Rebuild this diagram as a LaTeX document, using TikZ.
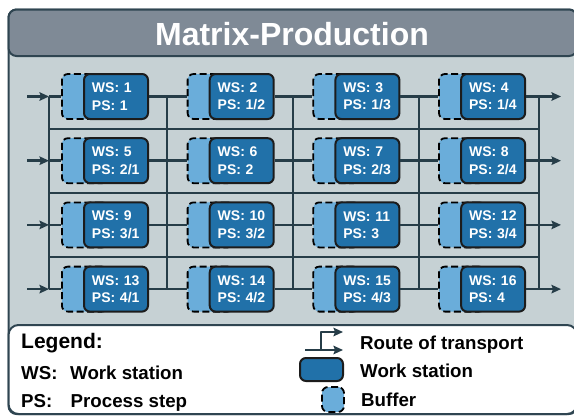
\documentclass[tikz,border=0pt]{standalone}
\usepackage{fontspec}
\setmainfont{Liberation Sans}
\usetikzlibrary{arrows.meta}
\definecolor{framecol}{HTML}{2F4551}
\definecolor{linecol}{HTML}{263D48}
\definecolor{titlecol}{HTML}{7F8A96}
\definecolor{bodycol}{HTML}{C6D1D4}
\definecolor{wsfill}{HTML}{2171A9}
\definecolor{wsline}{HTML}{1C1C1C}
\definecolor{buffill}{HTML}{6AADDA}
\tikzset{
  wsshape/.style={draw=wsline,line width=2pt,fill=wsfill,rounded corners=6pt,inner sep=0pt},
  wsbox/.style={wsshape,anchor=west,minimum width=64pt,minimum height=45pt,text width=48pt,
    inner xsep=8pt,align=left,text=white,font=\fontsize{14}{17.4}\selectfont\bfseries},
  bufbox/.style={draw=black,line width=1.8pt,dash pattern=on 7pt off 3.5pt,fill=buffill,
    rounded corners=6pt,inner sep=0pt},
  route/.style={draw=linecol,line width=2.6pt},
  gridline/.style={draw=linecol,line width=2pt},
  legtext/.style={anchor=base west,inner sep=0pt,font=\fontsize{18.7}{21}\selectfont\bfseries}
}
\begin{document}
\begin{tikzpicture}[x=1pt,y=-1pt,line join=round,>={Stealth[length=9.5pt,width=8.5pt,inset=1.5pt]}]
  \useasboundingbox (0,0) rectangle (574,416);
  \clip (0,0) rectangle (574,416);
  % frame, title bar and legend area
  \draw[framecol,line width=2pt,fill=bodycol,rounded corners=8pt] (8.5,9.5) rectangle (577,414);
  \draw[framecol,line width=2pt,fill=titlecol,rounded corners=8pt] (8.5,9.5) rectangle (577,56);
  \draw[framecol,line width=2pt,fill=white,rounded corners=10pt] (8.5,325) rectangle (577,414);
  \node[text=white,anchor=base,inner sep=0pt,font=\fontsize{32}{36}\selectfont\bfseries] (title) at (292,45.5) {Matrix-Production};

  % buffers and work stations
  \foreach \r in {1,...,4}{
    \foreach \c in {1,...,4}{
      \pgfmathtruncatemacro\n{4*(\r-1)+\c}
      \pgfmathsetmacro\xb{61+125.7*(\c-1)}
      \pgfmathsetmacro\yr{96.5+64.2*(\r-1)}
      \ifnum\r=\c \def\ps{\r}\else\def\ps{\r/\c}\fi
      \node[bufbox,anchor=west,minimum width=46pt,minimum height=45pt] (buf\n) at (\xb,\yr) {};
      \node[wsbox] (ws\n) at (\xb+22,\yr) {WS: \n\\PS: \ps};
    }
  }

  % grid of transport routes
  \foreach \x [count=\i] in {49,167,293,419,539}{
    \coordinate (vt\i) at (\x,96.5);
    \coordinate (vb\i) at (\x,289.1);
    \draw[gridline] (vt\i) -- (vb\i);
  }
  \foreach \y [count=\i] in {128.6,192.8,257}{
    \coordinate (hl\i) at (49,\y);
    \coordinate (hr\i) at (539,\y);
    \draw[gridline] (hl\i) -- (hr\i);
  }
  \foreach \r in {1,...,4}{
    \pgfmathsetmacro\yr{96.5+64.2*(\r-1)}
    \pgfmathtruncatemacro\a{4*(\r-1)+1}
    \coordinate (in\r) at (27,\yr);
    \coordinate (v\r) at (49,\yr);
    \coordinate (out\r) at (561,\yr);
    \draw[route,->] (in\r) -- (v\r);
    \draw[route] (v\r) -- (buf\a.west);
    \foreach \c in {1,2,3}{
      \pgfmathtruncatemacro\n{\a+\c-1}
      \pgfmathtruncatemacro\m{\a+\c}
      \draw[route] (ws\n.east) -- (buf\m.west);
    }
    \pgfmathtruncatemacro\n{\a+3}
    \draw[route,->] (ws\n.east) -- (out\r);
  }

  % legend
  \node[legtext,font=\fontsize{21}{24}\selectfont\bfseries] (leg) at (21,348) {Legend:};
  \node[legtext] (legws) at (21,379) {WS:};
  \node[legtext] (legwst) at (70,379) {Work station};
  \node[legtext] (legps) at (21,407) {PS:};
  \node[legtext] (legpst) at (70.5,407) {Process step};
  \coordinate (rta) at (305,350);
  \coordinate (rtb) at (321,350);
  \coordinate (rtc) at (321,332);
  \coordinate (rtd) at (343,350);
  \coordinate (rte) at (343,332);
  \draw[route,->] (rta) -- (rtd);
  \draw[route,->] (rtb) -- (rtc) -- (rte);
  \node[legtext] (legrt) at (360,349) {Route of transport};
  \node[wsshape,minimum width=43pt,minimum height=23pt] (legwsicon) at (321.5,369.5) {};
  \node[legtext] (legwsi) at (360,377) {Work station};
  \node[bufbox,minimum width=22pt,minimum height=25pt] (legbuf) at (333,399.5) {};
  \node[legtext] (legbuft) at (361,406) {Buffer};
\end{tikzpicture}
\end{document}
